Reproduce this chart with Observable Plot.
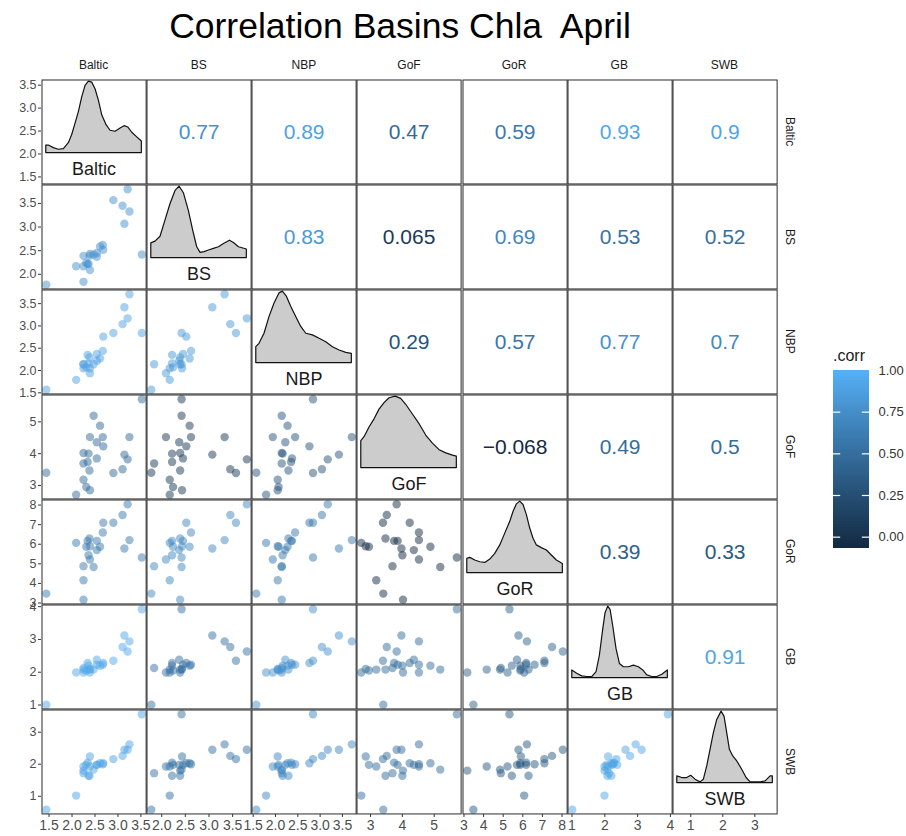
<!DOCTYPE html>
<html>
<head>
<meta charset="utf-8">
<script src="https://cdn.jsdelivr.net/npm/d3@7"></script>
<script src="https://cdn.jsdelivr.net/npm/@observablehq/plot@0.6"></script>
<style>
  body { margin: 0; background: #fff; font-family: "Liberation Sans", Arial, sans-serif; }
  #chart { position: relative; width: 906px; height: 836px; overflow: hidden; background: #fff; }
  #chart > * { position: absolute; }
  .title { left: 0; width: 800px; top: 10px; text-align: center; font-size: 35.5px; line-height: 35px; white-space: pre; color: #000; }
  .strip { font-size: 12px; line-height: 14px; color: #1a1a1a; text-align: center; }
  .rstrip { writing-mode: vertical-rl; }
  .legtitle { font-size: 16px; line-height: 18px; color: #1a1a1a; }
</style>
</head>
<body>
<div id="chart"></div>
<script>
// ---------- data ----------
const variables = ["Baltic", "BS", "NBP", "GoF", "GoR", "GB", "SWB"];

// one value per year (23 observations), same order in every array
const baltic = [1.44, 2.09, 2.25, 2.31, 2.39, 2.25, 2.38, 2.34, 2.25, 2.36, 2.54, 2.39, 2.54, 2.67, 2.68, 2.61, 2.47, 2.90, 3.10, 3.14, 3.21, 3.25, 3.52];
const bs     = [1.78, 2.17, 2.17, 2.24, 2.43, 1.84, 2.39, 2.22, 2.39, 2.22, 2.45, 2.09, 2.37, 2.62, 2.52, 2.59, 2.42, 3.57, 3.45, 3.07, 3.80, 3.33, 2.42];
const nbp    = [1.57, 1.79, 2.05, 2.07, 2.05, 2.14, 2.29, 2.35, 2.14, 2.16, 2.37, 1.94, 2.22, 2.44, 2.76, 2.27, 2.14, 2.84, 3.04, 3.42, 3.17, 3.71, 2.84];
const gof    = [3.40, 2.71, 3.18, 2.95, 2.85, 3.69, 3.47, 3.74, 4.02, 4.00, 3.85, 4.52, 4.36, 4.52, 4.23, 4.88, 5.19, 3.39, 3.51, 3.97, 3.82, 4.52, 5.71];
const gor    = [3.48, 6.07, 4.16, 5.87, 5.90, 4.88, 6.29, 6.17, 3.17, 5.44, 6.17, 5.22, 5.70, 6.60, 7.10, 5.87, 4.84, 7.10, 7.49, 5.78, 8.04, 6.21, 5.32];
const gb     = [1.01, 1.99, 2.08, 2.05, 2.10, 2.13, 2.08, 2.28, 1.99, 2.20, 2.23, 1.99, 2.38, 2.23, 2.28, 2.20, 2.08, 2.35, 2.77, 3.12, 2.63, 2.94, 3.92];
const swb    = [0.58, 1.02, 1.93, 1.98, 2.24, 1.72, 1.64, 2.05, 1.80, 1.64, 1.98, 1.93, 1.98, 2.00, 2.03, 2.03, 1.83, 2.16, 2.26, 2.45, 2.45, 2.62, 3.56];

// correlations shown in the upper triangle (row variable vs the following columns)
const corrBaltic = [0.77, 0.89, 0.47, 0.59, 0.93, 0.9];   // vs BS, NBP, GoF, GoR, GB, SWB
const corrBS     = [0.83, 0.065, 0.69, 0.53, 0.52];       // vs NBP, GoF, GoR, GB, SWB
const corrNBP    = [0.29, 0.57, 0.77, 0.7];               // vs GoF, GoR, GB, SWB
const corrGoF    = [-0.068, 0.49, 0.5];                   // vs GoR, GB, SWB
const corrGoR    = [0.39, 0.33];                          // vs GB, SWB
const corrGB     = [0.91];                                // vs SWB

// density curves on the diagonal: [value, relative density]
const densBaltic = [[1.44,0.105],[1.496,0.105],[1.605,0.069],[1.714,0.046],[1.823,0.055],[1.931,0.138],[2.004,0.252],[2.077,0.413],[2.149,0.573],[2.222,0.780],[2.295,0.940],[2.367,1.0],[2.440,0.986],[2.512,0.894],[2.585,0.734],[2.658,0.528],[2.752,0.390],[2.839,0.312],[2.948,0.298],[3.057,0.344],[3.144,0.376],[3.224,0.358],[3.311,0.284],[3.420,0.220],[3.52,0.161]];
const densBS = [[1.78,0.206],[1.869,0.229],[1.975,0.298],[2.081,0.528],[2.187,0.757],[2.293,0.940],[2.377,1.0],[2.469,0.908],[2.575,0.656],[2.667,0.381],[2.751,0.151],[2.822,0.073],[2.907,0.083],[2.998,0.106],[3.104,0.128],[3.210,0.151],[3.316,0.197],[3.443,0.243],[3.527,0.211],[3.633,0.151],[3.80,0.119]];
const densNBP = [[1.57,0.222],[1.642,0.269],[1.754,0.410],[1.867,0.646],[1.979,0.835],[2.091,0.976],[2.165,1.0],[2.255,0.929],[2.352,0.788],[2.464,0.646],[2.577,0.505],[2.689,0.410],[2.838,0.387],[2.988,0.340],[3.137,0.292],[3.287,0.222],[3.436,0.175],[3.586,0.142],[3.71,0.127]];
const densGoF = [[2.71,0.377],[2.811,0.432],[2.969,0.568],[3.126,0.682],[3.283,0.818],[3.440,0.909],[3.597,0.977],[3.786,1.0],[3.964,0.968],[4.121,0.886],[4.330,0.750],[4.540,0.614],[4.749,0.455],[4.959,0.341],[5.168,0.250],[5.378,0.205],[5.587,0.173],[5.71,0.159]];
const densGoR = [[3.17,0.198],[3.324,0.212],[3.578,0.175],[3.833,0.151],[4.087,0.142],[4.342,0.189],[4.596,0.269],[4.851,0.387],[5.105,0.552],[5.360,0.717],[5.529,0.858],[5.699,0.962],[5.868,1.0],[6.038,0.953],[6.207,0.811],[6.377,0.623],[6.547,0.481],[6.716,0.387],[6.971,0.349],[7.225,0.316],[7.479,0.245],[7.734,0.175],[8.04,0.127]];
const densGB = [[1.01,0.106],[1.160,0.060],[1.312,0.023],[1.464,0.014],[1.617,0.014],[1.749,0.083],[1.850,0.312],[1.952,0.679],[2.023,0.908],[2.104,1.0],[2.176,0.954],[2.257,0.725],[2.358,0.404],[2.460,0.197],[2.582,0.151],[2.734,0.151],[2.887,0.174],[3.039,0.151],[3.171,0.106],[3.293,0.037],[3.445,0.014],[3.598,0.014],[3.750,0.046],[3.92,0.106]];
const densSWB = [[0.58,0.093],[0.733,0.070],[0.889,0.070],[1.014,0.102],[1.149,0.047],[1.305,0.009],[1.409,0.047],[1.513,0.233],[1.617,0.465],[1.721,0.698],[1.826,0.884],[1.961,1.0],[2.054,0.930],[2.137,0.698],[2.221,0.465],[2.325,0.372],[2.450,0.302],[2.606,0.186],[2.741,0.070],[2.866,0.009],[3.022,0.009],[3.178,0.009],[3.335,0.023],[3.491,0.093],[3.56,0.093]];

// axis tick labels
const ticksBaltic = [1.5, 2.0, 2.5, 3.0, 3.5];
const ticksBS     = [2.0, 2.5, 3.0, 3.5];
const ticksNBP    = [1.5, 2.0, 2.5, 3.0, 3.5];
const ticksGoF    = [3, 4, 5];
const ticksGoR    = [3, 4, 5, 6, 7, 8];
const ticksGB     = [1, 2, 3, 4];
const ticksSWB    = [1, 2, 3];
const legendTicks = [0, 0.25, 0.5, 0.75, 1.0];

const titleText = "Correlation Basins Chla  April";
const legendTitle = ".corr";

// ---------- assembly ----------
const series = [baltic, bs, nbp, gof, gor, gb, swb];
const densities = [densBaltic, densBS, densNBP, densGoF, densGoR, densGB, densSWB];
const tickSets = [ticksBaltic, ticksBS, ticksNBP, ticksGoF, ticksGoR, ticksGB, ticksSWB];
const tickFormats = [".1f", ".1f", ".1f", "d", "d", "d", "d"];
const corrRows = [corrBaltic, corrBS, corrNBP, corrGoF, corrGoR, corrGB];

const obs = baltic.map((_, k) => Object.fromEntries(variables.map((v, i) => [v, series[i][k]])));
const domains = series.map(s => { const [a, b] = d3.extent(s); const p = (b - a) * 0.05; return [a - p, b + p]; });
const corrAt = (i, j) => i < j ? corrRows[i][j - i - 1] : corrRows[j][i - j - 1];

const allCorr = corrRows.flat();
const colorDomain = [d3.min(allCorr), d3.max(legendTicks)];
const colorOpts = {type: "linear", domain: colorDomain, range: ["#132B43", "#56B1F7"], interpolate: "lab"};
const fmtCorr = d3.format(".2~g");

const FONT = "'Liberation Sans', Arial, Helvetica, sans-serif";
const svgStyle = `overflow: visible; background: transparent; font-family: ${FONT};`;

const X0 = 41, Y0 = 79.3, CW = 105.14, CH = 104.96;
const colLeft = j => X0 + j * CW;
const rowTop = i => Y0 + i * CH;

const chart = document.getElementById("chart");
function place(el, left, top) {
  el.style.position = "absolute";
  el.style.left = left + "px";
  el.style.top = top + "px";
  chart.appendChild(el);
  return el;
}
function div(cls, text, left, top, extra = {}) {
  const d = document.createElement("div");
  d.className = cls;
  d.textContent = text;
  Object.assign(d.style, extra);
  return place(d, left, top);
}

// title
div("title", titleText, 0, 9);

// panels
for (let i = 0; i < 7; ++i) {
  for (let j = 0; j < 7; ++j) {
    const marks = [];
    let yOpts = {domain: domains[i], axis: null};
    if (i === j) {
      yOpts = {domain: [-0.44, 1.03], axis: null};
      marks.push(
        Plot.areaY(densities[i], {x: d => d[0], y: d => d[1], fill: "#CCCCCC", stroke: "#111", strokeWidth: 1.2}),
        Plot.text([variables[i]], {text: d => d, frameAnchor: "bottom", lineAnchor: "bottom", dy: -9, fontSize: 18, fill: "#1a1a1a"})
      );
    } else if (i > j) {
      const c = corrAt(i, j);
      marks.push(Plot.dot(obs, {x: variables[j], y: variables[i], r: 4.2, fill: () => c, fillOpacity: 0.5}));
    } else {
      const c = corrAt(i, j);
      marks.push(Plot.text([c], {text: d => fmtCorr(d), fill: d => d, frameAnchor: "middle", fontSize: 21}));
    }
    marks.push(Plot.frame({stroke: "#2b2b2b", strokeWidth: 1, inset: 0.5}));
    const p = Plot.plot({
      width: CW, height: CH, margin: 0,
      x: {domain: domains[j], axis: null},
      y: yOpts,
      color: colorOpts,
      style: svgStyle,
      marks
    });
    place(p, colLeft(j), rowTop(i));
  }
}

// left axes (one per row)
for (let i = 0; i < 7; ++i) {
  const p = Plot.plot({
    width: 42, height: CH, marginLeft: 41, marginRight: 1, marginTop: 0, marginBottom: 0,
    y: {domain: domains[i]},
    style: svgStyle,
    marks: [Plot.axisY(tickSets[i], {tickSize: 3, tickPadding: 2, tickFormat: tickFormats[i], fontSize: 12.5, fill: "#4d4d4d", stroke: "#333", label: null})]
  });
  place(p, 0, rowTop(i));
}

// bottom axes (one per column)
for (let j = 0; j < 7; ++j) {
  const p = Plot.plot({
    width: CW, height: 24, marginLeft: 0, marginRight: 0, marginTop: 1, marginBottom: 23,
    x: {domain: domains[j]},
    style: svgStyle,
    marks: [Plot.axisX(tickSets[j], {tickSize: 3, tickPadding: 3, tickFormat: tickFormats[j], fontSize: 14, fill: "#4d4d4d", stroke: "#333", label: null})]
  });
  place(p, colLeft(j), rowTop(6) + CH - 1);
}

// strips: column names on top, row names on the right
variables.forEach((v, j) => div("strip", v, colLeft(j), 58, {width: CW + "px"}));
variables.forEach((v, i) => div("strip rstrip", v, 783, rowTop(i), {width: "14px", height: CH + "px"}));

// legend
div("legtitle", legendTitle, 833, 347);
const nSteps = 120;
const span = colorDomain[1] - colorDomain[0];
const steps = d3.range(nSteps).map(k => [colorDomain[0] + span * k / nSteps, Math.min(colorDomain[1], colorDomain[0] + span * (k + 1.6) / nSteps)]);
const legend = Plot.plot({
  width: 75, height: 178, marginLeft: 0, marginRight: 39, marginTop: 0, marginBottom: 0,
  x: {domain: [0, 1], axis: null},
  y: {domain: colorDomain, axis: null},
  color: colorOpts,
  style: svgStyle,
  marks: [
    Plot.rect(steps, {x1: 0, x2: 1, y1: d => d[0], y2: d => d[1], fill: d => (d[0] + d[0] + span / nSteps) / 2}),
    Plot.ruleY(legendTicks.slice(0, -1), {x1: 0, x2: 0.2, stroke: "white", strokeWidth: 1.2}),
    Plot.ruleY(legendTicks.slice(0, -1), {x1: 0.8, x2: 1, stroke: "white", strokeWidth: 1.2}),
    Plot.axisY(legendTicks, {anchor: "right", tickSize: 0, tickPadding: 9, tickFormat: ".2f", fontSize: 13, fill: "#333", label: null})
  ]
});
place(legend, 833, 370);
</script>
</body>
</html>
